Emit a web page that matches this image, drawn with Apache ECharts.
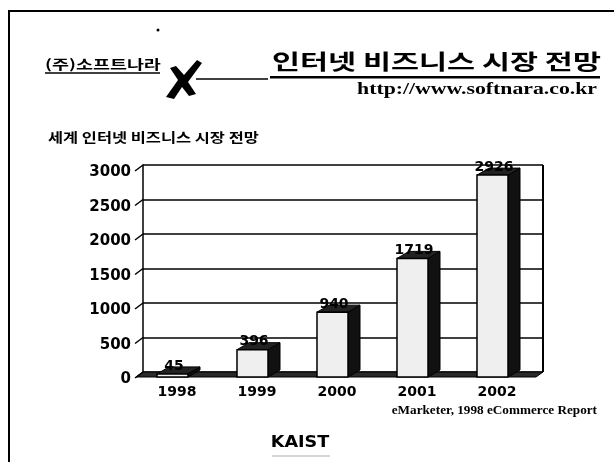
<!DOCTYPE html>
<html><head><meta charset="utf-8">
<script src="https://cdn.jsdelivr.net/npm/echarts@6/dist/echarts.min.js"></script>
<style>html,body{margin:0;padding:0;background:#fff}#c{width:614px;height:462px}</style>
</head><body><div id="c"></div>
<script>
const categories = ['1998', '1999', '2000', '2001', '2002'];
const values = [45, 396, 940, 1719, 2926];
const valueLabels = ['45', '396', '940', '1719', '2926'];
const yTicks = [0, 500, 1000, 1500, 2000, 2500, 3000];

const chart = echarts.init(document.getElementById('c'), null, {renderer: 'canvas'});
const KR = '"Noto Sans CJK KR", sans-serif';
const NUM = '"DejaVu Sans", sans-serif';
const SERIF = '"Liberation Serif", serif';

function barItem(params, api) {
  const i = api.value(0), v = api.value(1);
  const p = api.coord([i, v]);
  const b = api.coord([i, 0]);
  const c = p[0];
  const yf = p[1] + 5, yb = b[1] + 5;
  const L = c - 26, R = c + 5, D = 12, H = 7;
  return {
    type: 'group',
    children: [
      {type: 'polygon', shape: {points: [[R, yf], [R + D, yf - H], [R + D, yb - H], [R, yb]]},
       style: {fill: '#111', stroke: '#000', lineWidth: 1}},
      {type: 'polygon', shape: {points: [[L, yf], [R, yf], [R + D, yf - H], [L + D, yf - H]]},
       style: {fill: '#222', stroke: '#000', lineWidth: 1}},
      {type: 'rect', shape: {x: L, y: yf, width: R - L, height: Math.max(yb - yf, 1)},
       style: {fill: '#efefef', stroke: '#000', lineWidth: 1.5}},
      {type: 'text', style: {text: valueLabels[i], x: c - 9, y: yf - 1, textAlign: 'center', textVerticalAlign: 'bottom',
        fontFamily: NUM, fontWeight: 'bold', fontSize: 14, fill: '#000'}}
    ]
  };
}

function decorItem(params, api) {
  const cs = params.coordSys;
  const x0 = cs.x, x1 = cs.x + cs.width, y0 = cs.y + cs.height;
  const ch = [];
  ch.push({type: 'polygon', shape: {points: [[x0 - 7, y0 + 5], [x1 - 7, y0 + 5], [x1, y0], [x0, y0]]},
    style: {fill: '#2a2a2a', stroke: '#000', lineWidth: 1}});
  yTicks.forEach(t => {
    const y = api.coord([0, t])[1];
    ch.push({type: 'line', shape: {x1: x0 - 8, y1: y + 6, x2: x0, y2: y}, style: {stroke: '#000', lineWidth: 1.5}});
  });
  ch.push({type: 'line', shape: {x1: x1, y1: cs.y, x2: x1, y2: y0}, style: {stroke: '#000', lineWidth: 2}});
  return {type: 'group', children: ch};
}

const option = {
  animation: false,
  backgroundColor: '#fff',
  grid: {left: 143, right: 71, top: 165, bottom: 90},
  xAxis: {
    type: 'category', data: categories,
    axisLine: {show: false}, axisTick: {show: false},
    axisLabel: {margin: 13, padding: [0, 12, 0, 0], fontFamily: NUM, fontWeight: 'bold', fontSize: 14, color: '#000'}
  },
  yAxis: {
    type: 'value', min: 0, max: 3000, interval: 500,
    axisLine: {show: true, lineStyle: {color: '#000', width: 1.5}},
    axisTick: {show: false},
    splitLine: {show: true, lineStyle: {color: '#000', width: 1.5}},
    axisLabel: {margin: 12, verticalAlign: 'top', formatter: v => String(v),
      fontFamily: NUM, fontWeight: 'bold', fontSize: 15, color: '#000'}
  },
  series: [
    {type: 'custom', renderItem: decorItem, data: [[0, 0]], z: 1, silent: true},
    {type: 'custom', renderItem: barItem, data: values.map((v, i) => [i, v]), z: 3, silent: true}
  ],
  graphic: [
    {type: 'polyline', shape: {points: [[9, 462], [9, 11], [614, 11]]}, style: {stroke: '#000', lineWidth: 2, fill: null}},
    {type: 'circle', shape: {cx: 158, cy: 30, r: 1.5}, style: {fill: '#000'}},
    {type: 'text', x: 45, y: 71, scaleX: 1.42, style: {text: '(주)소프트나라', x: 0, y: 0, textVerticalAlign: 'bottom',
      fontFamily: KR, fontWeight: 'bold', fontSize: 13, fill: '#000'}},
    {type: 'line', shape: {x1: 45, y1: 73, x2: 160, y2: 73}, style: {stroke: '#000', lineWidth: 1.5}},
    {type: 'polygon', shape: {points: [[166, 97], [178, 80], [170, 68], [176, 66], [184, 75], [197, 60], [202, 63], [188, 82], [196, 94], [189, 96], [182, 87], [174, 99]]},
      style: {fill: '#000'}},
    {type: 'line', shape: {x1: 196, y1: 79, x2: 268, y2: 79}, style: {stroke: '#000', lineWidth: 1.5}},
    {type: 'text', x: 272, y: 72, scaleX: 1.45, style: {text: '인터넷 비즈니스 시장 전망', x: 0, y: 0, textVerticalAlign: 'bottom',
      fontFamily: KR, fontWeight: 'bold', fontSize: 21, fill: '#000'}},
    {type: 'rect', shape: {x: 270, y: 76, width: 330, height: 2.5}, style: {fill: '#000'}},
    {type: 'text', x: 597, y: 98, scaleX: 1.28, style: {text: 'http://www.softnara.co.kr', x: 0, y: 0, textAlign: 'right', textVerticalAlign: 'bottom',
      fontFamily: SERIF, fontWeight: 'bold', fontSize: 17, fill: '#000'}},
    {type: 'text', x: 48, y: 144, scaleX: 1.26, style: {text: '세계 인터넷 비즈니스 시장 전망', x: 0, y: 0, textVerticalAlign: 'bottom',
      fontFamily: KR, fontWeight: 'bold', fontSize: 13, fill: '#000'}},
    {type: 'text', x: 597, y: 417, scaleX: 1.1, style: {text: 'eMarketer, 1998 eCommerce Report', x: 0, y: 0, textAlign: 'right', textVerticalAlign: 'bottom',
      fontFamily: SERIF, fontWeight: 'bold', fontSize: 12, fill: '#000'}},
    {type: 'text', x: 300, y: 451, scaleX: 1.1, style: {text: 'KAIST', x: 0, y: 0, textAlign: 'center', textVerticalAlign: 'bottom',
      fontFamily: NUM, fontWeight: 'bold', fontSize: 16, fill: '#000'}},
    {type: 'line', shape: {x1: 272, y1: 456, x2: 330, y2: 456}, style: {stroke: '#999', lineWidth: 0.8}}
  ]
};
chart.setOption(option);
</script>
</body></html>
